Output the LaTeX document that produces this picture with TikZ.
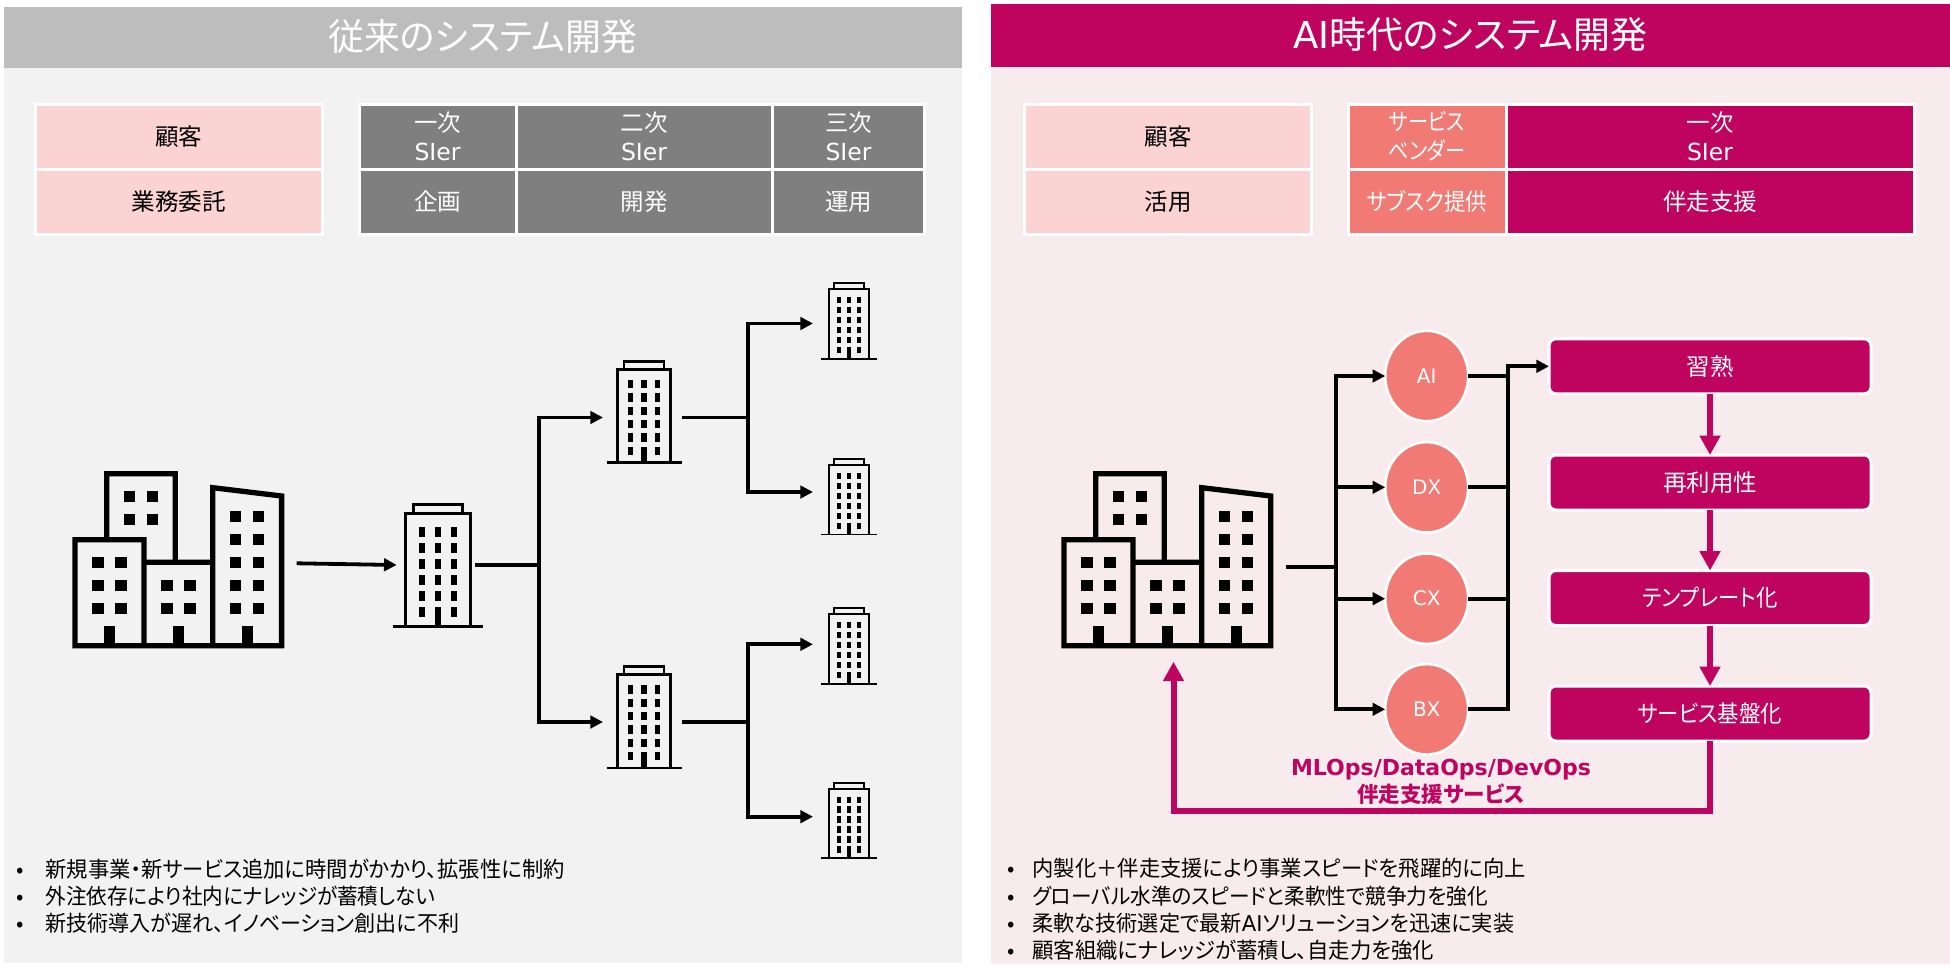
\documentclass[tikz,border=0pt]{standalone}
\usepackage{fontspec}
\setmainfont[RawFeature={+palt}]{Noto Sans CJK JP}
\newfontfamily\lat{DejaVu Sans}
\usetikzlibrary{arrows.meta,shapes.geometric}
\definecolor{mag}{HTML}{BF0460}
\definecolor{salmon}{HTML}{F17B74}
\definecolor{lpink}{HTML}{FBD3D3}
\definecolor{bgL}{HTML}{F2F2F2}
\definecolor{bgR}{HTML}{F8EBEE}
\definecolor{hdgray}{HTML}{BDBDBD}
\definecolor{tgray}{HTML}{7F7F7F}
\newcommand{\fsz}[2]{\fontsize{#1}{#2}\selectfont}
\newcommand{\dn}[1]{\raisebox{-2.2pt}{#1}}
\newcommand{\sx}[2]{\scalebox{#1}[1]{#2}}
\newcommand{\bigicon}[2]{%
 \begin{scope}[shift={(#1,#2)},x=0.3333pt,y=-0.3333pt]
  \draw[black,line width=5.3pt,miter limit=10]
   (170,262)--(170,71)--(376,71)--(376,330)
   (75,269) rectangle (282,587)
   (282,337)--(488,337)
   (282,587)--(695,587)--(695,138)--(488,113)--(488,587);
  \foreach \x/\y in {222/123,291/123,222/192,291/192,
    127/321,196/321,127/389,196/389,127/458,196/458,
    334/389,403/389,334/458,403/458,
    540/182,609/182,540/251,609/251,540/320,609/320,540/389,609/389,540/458,609/458}
    \fill[black] (\x,\y) rectangle ++(34,34);
  \foreach \x in {161,368,575}
    \fill[black] (\x,527) rectangle ++(35,60);
 \end{scope}}
\newcommand{\tower}[3]{%
 \begin{scope}[shift={(#1,#2)},x=#3pt,y=-#3pt]
  \pgfmathsetmacro{\lw}{2.5*#3}
  \draw[black,line width=\lw pt] (-37.5,0)--(37.5,0)
    (-26.7,0)--(-26.7,-93.3)--(26.7,-93.3)--(26.7,0)
    (-20,-93.3)--(-20,-101.3)--(20,-101.3)--(20,-93.3);
  \foreach \r in {0,...,5}
   \foreach \c in {-13.33,0,13.33}
     \fill[black] ({\c-2.67},{-82.7+\r*13.33}) rectangle ++(5.33,8.33);
  \fill[black] (-2.67,-16) rectangle (2.67,0);
 \end{scope}}
\tikzset{
 cell/.style={draw=white,line width=3pt,inner sep=0pt,outer sep=0pt,align=center,font=\fsz{23.5}{29}},
 pcell/.style={cell,fill=lpink,text=black},
 gcell/.style={cell,fill=tgray,text=white},
 scell/.style={cell,fill=salmon,text=white},
 mcell/.style={cell,fill=mag,text=white},
 hdr/.style={inner sep=0pt,outer sep=0pt,text=white,font=\fsz{37}{40}},
 conn/.style={black,line width=3.8pt,miter limit=10},
 arr/.style={conn,-{Triangle[length=12.7pt,width=12.5pt]}},
 marr/.style={mag,line width=6pt,-{Triangle[length=19.5pt,width=20pt]}},
 icon/.style={inner sep=0pt,outer sep=0pt,minimum height=1pt},
 circ/.style={ellipse,draw=white,line width=2.6pt,fill=salmon,text=white,inner sep=0pt,outer sep=0pt,
   minimum width=83pt,minimum height=90.4pt,font=\lat\fsz{20}{24}},
 flow/.style={rectangle,rounded corners=7pt,draw=white,line width=3pt,fill=mag,text=white,inner sep=0pt,outer sep=0pt,
   minimum width=322pt,minimum height=55pt,font=\fsz{23.5}{28}},
 bul/.style={anchor=west,inner sep=0pt,outer sep=0pt,text=black,font=\fsz{21.8}{26}},
}
\newcommand{\bl}[3]{\makebox[#1pt][l]{•}\scalebox{#2}[1]{#3}}
\begin{document}
\begin{tikzpicture}[x=1pt,y=-1pt]
\useasboundingbox (0,0) rectangle (1950,977);
\fill[white] (0,0) rectangle (1950,977);
% panels
\fill[bgL] (4,67) rectangle (962,963);
\fill[bgR] (991,66) rectangle (1950,964);
\node[hdr,fill=hdgray,minimum width=958pt,minimum height=61pt] (hl) at (483,37) {\dn{\sx{0.97}{従来のシステム開発}}};
\node[hdr,fill=mag,minimum width=959pt,minimum height=63pt] (hr) at (1470.5,35) {\dn{{\lat AI}時代のシステム開発}};
% left table
\node[pcell,minimum width=287pt,minimum height=65pt] (l1) at (178.5,136.5) {\dn{顧客}};
\node[pcell,minimum width=287pt,minimum height=65pt] (l2) at (178.5,201.5) {\dn{業務委託}};
\node[gcell,minimum width=157pt,minimum height=65pt] (g1) at (437.5,136.5) {一次\\{\lat SIer}};
\node[gcell,minimum width=256pt,minimum height=65pt] (g2) at (644,136.5) {二次\\{\lat SIer}};
\node[gcell,minimum width=152pt,minimum height=65pt] (g3) at (848.5,136.5) {三次\\{\lat SIer}};
\node[gcell,minimum width=157pt,minimum height=65pt] (g4) at (437.5,201.5) {\dn{企画}};
\node[gcell,minimum width=256pt,minimum height=65pt] (g5) at (644,201.5) {\dn{開発}};
\node[gcell,minimum width=152pt,minimum height=65pt] (g6) at (848.5,201.5) {\dn{運用}};
% right table
\node[pcell,minimum width=287pt,minimum height=65pt] (r1) at (1168,136.5) {\dn{顧客}};
\node[pcell,minimum width=287pt,minimum height=65pt] (r2) at (1168,201.5) {\dn{活用}};
\node[scell,minimum width=158pt,minimum height=65pt] (s1) at (1427,136.5) {\sx{0.86}{サービス}\\\sx{0.86}{ベンダー}};
\node[scell,minimum width=158pt,minimum height=65pt] (s2) at (1427,201.5) {\dn{\sx{0.91}{サブスク提供}}};
\node[mcell,minimum width=408pt,minimum height=65pt] (m1) at (1710,136.5) {一次\\{\lat SIer}};
\node[mcell,minimum width=408pt,minimum height=65pt] (m2) at (1710,201.5) {\dn{伴走支援}};
% left icons
\bigicon{50}{450}
\tower{438}{626.7}{1.21}
\tower{644}{462.7}{1}
\tower{644}{768}{1}
\tower{849.3}{359}{0.747}
\tower{849.3}{534.5}{0.747}
\tower{849.3}{684}{0.747}
\tower{849.3}{858.3}{0.747}
\node[icon,minimum width=224.6pt] (bl) at (184.4,563.3) {};
\node[icon,minimum width=78.3pt] (t1) at (435.85,565) {};
\node[icon,minimum width=79pt] (t2) at (642.5,417.5) {};
\node[icon,minimum width=79pt] (t3) at (642.5,722) {};
\node[icon,minimum width=72pt] (u1) at (849,323.5) {};
\node[icon,minimum width=72pt] (u2) at (849,492) {};
\node[icon,minimum width=72pt] (u3) at (849,644.3) {};
\node[icon,minimum width=72pt] (u4) at (849,816.7) {};
\coordinate (j1) at (539,565);
\coordinate (j2) at (748,417.5);
\coordinate (j3) at (748,722);
\draw[arr] (bl.east) -- (t1.west);
\draw[conn] (t1.east) -- (j1);
\draw[arr] (j1) |- (t2.west);
\draw[arr] (j1) |- (t3.west);
\draw[conn] (t2.east) -- (j2);
\draw[arr] (j2) |- (u1.west);
\draw[arr] (j2) |- (u2.west);
\draw[conn] (t3.east) -- (j3);
\draw[arr] (j3) |- (u3.west);
\draw[arr] (j3) |- (u4.west);
% right icons
\bigicon{1039}{450}
\node[icon,minimum width=224.6pt,minimum height=188.8pt] (br) at (1173.5,567.3) {};
\node[circ] (ai) at (1426.7,376) {\dn{AI}};
\node[circ] (dx) at (1426.7,487.3) {\dn{DX}};
\node[circ] (cx) at (1426.7,598.7) {\dn{CX}};
\node[circ] (bx) at (1426.7,709.3) {\dn{BX}};
\node[flow] (f1) at (1710,366.3) {\dn{習熟}};
\node[flow] (f2) at (1710,482.5) {\dn{再利用性}};
\node[flow] (f3) at (1710,598) {\dn{\sx{0.91}{テンプレート化}}};
\node[flow] (f4) at (1710,713.5) {\dn{\sx{0.91}{サービス基盤化}}};
\coordinate (jl) at (1335.7,567.3);
\coordinate (jr) at (1508.3,366.3);
\coordinate (jb) at (1710,810.7);
\draw[conn] (br.east) -- (jl);
\draw[arr] (jl) |- (ai.west);
\draw[arr] (jl) |- (dx.west);
\draw[arr] (jl) |- (cx.west);
\draw[arr] (jl) |- (bx.west);
\draw[conn,-{Triangle[length=12.7pt,width=12.5pt]}] (bx.east) -| (jr) -- (f1.west);
\draw[conn] (ai.east) -- (ai.east -| jr);
\draw[conn] (dx.east) -- (dx.east -| jr);
\draw[conn] (cx.east) -- (cx.east -| jr);
\draw[marr] (f1.south) -- (f2.north);
\draw[marr] (f2.south) -- (f3.north);
\draw[marr] (f3.south) -- (f4.north);
\draw[marr,miter limit=10] (f4.south) -- (jb) -| (br.south);
\node[inner sep=0pt,text=mag,align=center,font=\bfseries\fsz{21.5}{26.5}] (lab) at (1441,782) {{\lat\bfseries\fontsize{22}{26.5}\selectfont MLOps/DataOps/DevOps}\\伴走支援サービス};
% bullets
\node[bul] (a1) at (16.5,869) {\bl{29}{0.977}{新規事業・新サービス追加に時間がかかり、拡張性に制約}};
\node[bul] (a2) at (16.5,896.5) {\bl{29}{0.943}{外注依存により社内にナレッジが蓄積しない}};
\node[bul] (a3) at (16.5,923.5) {\bl{29}{0.965}{新技術導入が遅れ、イノベーション創出に不利}};
\node[bul] (b1) at (1007,868.5) {\bl{25.5}{0.978}{内製化＋伴走支援により事業スピードを飛躍的に向上}};
\node[bul] (b2) at (1007,896) {\bl{25.5}{0.948}{グローバル水準のスピードと柔軟性で競争力を強化}};
\node[bul] (b3) at (1007,923.5) {\bl{25.5}{0.97}{柔軟な技術選定で最新{\lat AI}ソリューションを迅速に実装}};
\node[bul] (b4) at (1007,950.5) {\bl{25.5}{0.979}{顧客組織にナレッジが蓄積し、自走力を強化}};
\end{tikzpicture}
\end{document}
